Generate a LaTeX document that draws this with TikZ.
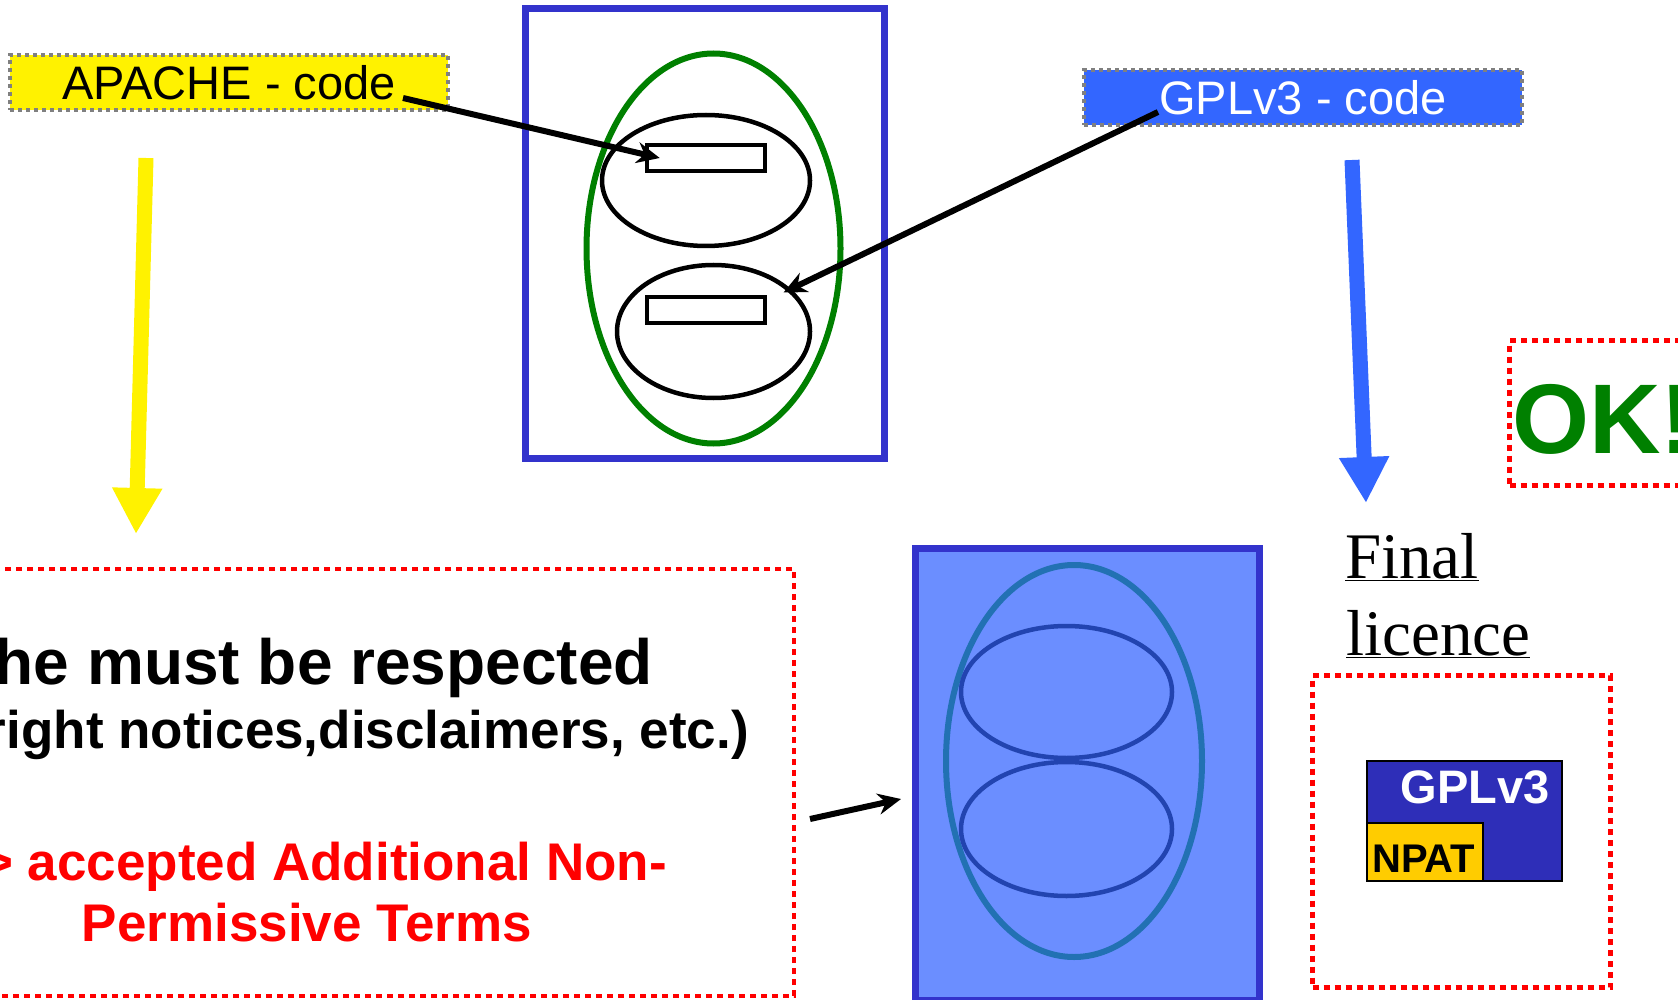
\documentclass[tikz,border=0pt]{standalone}
\usepackage{fontspec}
\setmainfont{Liberation Sans}
\newfontfamily\serifface{Liberation Serif}
\usetikzlibrary{arrows.meta,shapes.geometric,positioning}

\definecolor{gplblue}{HTML}{3366FF}
\definecolor{frameblue}{HTML}{3333CC}
\definecolor{okgreen}{HTML}{008000}
\definecolor{mixfill}{HTML}{6B8EFF}
\definecolor{tealline}{HTML}{2271B3}
\definecolor{innerblue}{HTML}{2244B0}
\definecolor{gpldark}{HTML}{2E2EB8}
\definecolor{npatgold}{HTML}{FFCC00}

\tikzset{
  codebox/.style={draw=gray, line width=4pt, dash pattern=on 4pt off 4pt,
    minimum width=438pt, minimum height=55pt, inner sep=0pt,
    font=\fontsize{47}{56}\selectfont},
  redbox/.style={draw=red, line width=5pt, dash pattern=on 6pt off 5pt, inner sep=0pt},
  frame/.style={draw=frameblue, line width=7pt, inner sep=0pt},
  part/.style={ellipse, draw, line width=4.5pt, minimum width=208pt, minimum height=131pt, inner sep=0pt},
  slot/.style={draw, line width=4.5pt, minimum width=118pt, minimum height=26pt, inner sep=0pt},
  pointer/.style={->, line width=6pt},
  bigarrow/.style={line width=15pt, -{Triangle[length=46pt,width=47pt]}},
  termtext/.style={inner sep=0pt, anchor=base east, font=\bfseries\fontsize{53}{63}\selectfont}
}

\begin{document}
\begin{tikzpicture}[x=1pt,y=-1pt,>={Stealth[length=23pt,width=21pt]}]
\useasboundingbox (0,0) rectangle (1678,1000);

% combined work, top
\node[frame, minimum width=359pt, minimum height=450pt] (topframe) at (705,233.5) {};
\node[ellipse, draw=okgreen, line width=6pt, minimum width=254pt, minimum height=390pt, inner sep=0pt] (topoval) at (713.5,248.5) {};
\node[part] (upoval) at (706,180.5) {};
\node[slot] (upslot) at (706,158) {};
\node[part, minimum width=193pt, minimum height=133pt] (lowoval) at (713.5,331.5) {};
\node[slot] (lowslot) at (706,310) {};

% code labels
\node[codebox, fill=yellow] (apache) at (229,82.5) {APACHE - code};
\node[codebox, fill=gplblue, text=white] (gpl) at (1303,97.5) {GPLv3 - code};

\draw[pointer] ([shift={(-47,15.5)}]apache.east) -- ([xshift=15pt]upslot.west);
\draw[pointer] ([shift={(76,14.5)}]gpl.west) -- ([shift={(70,-39)}]lowoval.center);

% big arrows
\coordinate (apachefoot) at (146,158);
\coordinate (apachetip) at (136,534);
\coordinate (gplfoot) at (1352,160);
\coordinate (gpltip) at (1366,503);
\draw[bigarrow, yellow] (apachefoot) -- (apachetip);
\draw[bigarrow, gplblue] (gplfoot) -- (gpltip);

% terms box, bottom left
\node[redbox, line width=4pt, minimum width=814pt, minimum height=427pt] (terms) at (387,782.5) {};
\node[termtext, font=\bfseries\fontsize{64}{76}\selectfont] (respect) at (653,684) {he must be respected};
\node[termtext] (notices) at (749,748) {right notices,disclaimers, etc.)};
\node[termtext, text=red] (accepted) at (667,880) {-> accepted Additional Non-};
\node[termtext, text=red] (permissive) at (532,941) {Permissive Terms};

% combined work, bottom
\node[frame, fill=mixfill, minimum width=344pt, minimum height=451.5pt] (botframe) at (1087.5,774.25) {};
\node[ellipse, draw=tealline, line width=6pt, minimum width=256pt, minimum height=392pt, inner sep=0pt] (botoval) at (1074,761) {};
\node[part, draw=innerblue, minimum width=211pt, minimum height=132pt] (botup) at (1066.5,692) {};
\node[part, draw=innerblue, minimum width=211pt, minimum height=134pt] (botlow) at (1066.5,829) {};

\draw[pointer] ([shift={(14,36.5)}]terms.east) -- ([shift={(-11,24.75)}]botframe.west);

% result
\node[redbox, minimum width=200pt, minimum height=145pt] (okbox) at (1609.5,413) {};
\node[anchor=base west, inner sep=0pt, text=okgreen, font=\bfseries\fontsize{99}{110}\selectfont] (oktext) at (1512,453) {OK!};

\node[anchor=base west, inner sep=0pt, font=\serifface\fontsize{65}{78}\selectfont] (final) at (1345,578) {\underline{Final}};
\node[anchor=base west, inner sep=0pt, font=\serifface\fontsize{65}{78}\selectfont] (licence) at (1346,655) {\underline{licence}};

\node[redbox, minimum width=298pt, minimum height=312pt] (finalbox) at (1461.5,831.5) {};
\node[draw, line width=2.5pt, fill=gpldark, minimum width=195pt, minimum height=120pt, inner sep=0pt] (gplv3) at (1464.5,821) {};
\node[draw, line width=2.5pt, fill=npatgold, minimum width=116pt, minimum height=58pt, inner sep=0pt] (npat) at (1425,852) {};
\node[anchor=base east, inner sep=0pt, text=white, font=\bfseries\fontsize{47}{56}\selectfont] (gplv3text) at (1550,803) {GPLv3};
\node[anchor=base west, inner sep=0pt, font=\bfseries\fontsize{40}{48}\selectfont] (npattext) at (1372,872) {NPAT};
\end{tikzpicture}
\end{document}
